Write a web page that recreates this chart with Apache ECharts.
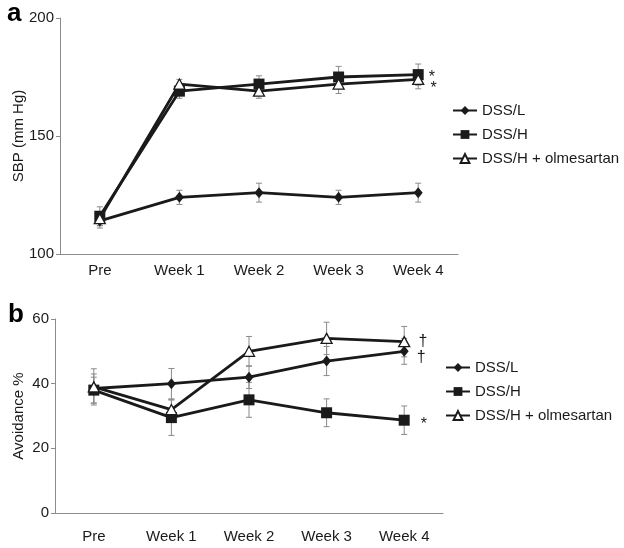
<!DOCTYPE html>
<html>
<head>
<meta charset="utf-8">
<script src="https://cdn.jsdelivr.net/npm/echarts@6/dist/echarts.min.js"></script>
<style>
  html, body { margin: 0; padding: 0; background: #fff; }
  #chart { width: 624px; height: 548px; }
</style>
</head>
<body>
<div id="chart"></div>
<script>
// Two stacked panels: (a) systolic BP, (b) avoidance %
const weeks = ['Pre', 'Week 1', 'Week 2', 'Week 3', 'Week 4'];
const names = ['DSS/L', 'DSS/H', 'DSS/H + olmesartan'];

// panel a — SBP (mm Hg)
const sbpL = [114, 124, 126, 124, 126];
const sbpH = [116, 169, 172, 175, 176];
const sbpO = [115, 172, 169, 172, 174];
const sbpLErr = [3, 3, 4, 3, 4];
const sbpHErr = [4, 3, 3.5, 4.5, 4.5];
const sbpOErr = [3, 2, 3, 4, 4];
const sbpMarks = ['', '*', '*']; // at Week 4

// panel b — Avoidance %
const avL = [38.5, 40, 42, 47, 50];
const avH = [38, 29.5, 35, 31, 28.7];
const avO = [39, 32, 50, 54, 53];
const avLErr = [4.5, 4.7, 3.5, 4.5, 4];
const avHErr = [4, 5.5, 5.4, 4.3, 4.4];
const avOErr = [5.6, 3, 4.6, 5, 4.7];
const avMarks = ['†', '*', '†'];

const FONT = '"Liberation Sans", Arial, sans-serif';
const INK = '#1a1a1a';
const AXIS = '#8c8c8c';
const ERR = '#8a8a8a';

const chart = echarts.init(document.getElementById('chart'), null, { renderer: 'canvas' });

const SYM = [
  { symbol: 'diamond', symbolSize: [9, 11], itemStyle: { color: INK, borderColor: INK, borderWidth: 0 } },
  { symbol: 'rect', symbolSize: 11, itemStyle: { color: INK, borderColor: INK, borderWidth: 0 } },
  { symbol: 'triangle', symbolSize: [11, 10], itemStyle: { color: '#fff', borderColor: INK, borderWidth: 1.3 } },
];

function lineSeries(i, vals, grid, mark, markOffset) {
  return Object.assign({
    name: names[i], type: 'line', xAxisIndex: grid, yAxisIndex: grid,
    data: vals.map((v, k) => k === vals.length - 1 && mark
      ? { value: v, label: { show: true, formatter: mark, position: 'right',
          offset: markOffset, color: INK, fontFamily: FONT, fontSize: 16 } }
      : v),
    lineStyle: { color: INK, width: 2.8 },
    showSymbol: true, z: 3, animation: false,
  }, SYM[i]);
}

function errSeries(vals, errs, grid) {
  return {
    type: 'custom', xAxisIndex: grid, yAxisIndex: grid, z: 2, silent: true, animation: false,
    data: vals.map((v, k) => [k, v - errs[k], v + errs[k]]),
    renderItem: (params, api) => {
      const lo = api.coord([api.value(0), api.value(1)]);
      const hi = api.coord([api.value(0), api.value(2)]);
      const st = { stroke: ERR, lineWidth: 1 };
      return { type: 'group', children: [
        { type: 'line', shape: { x1: lo[0], y1: lo[1], x2: hi[0], y2: hi[1] }, style: st },
        { type: 'line', shape: { x1: lo[0] - 3, y1: lo[1], x2: lo[0] + 3, y2: lo[1] }, style: st },
        { type: 'line', shape: { x1: hi[0] - 3, y1: hi[1], x2: hi[0] + 3, y2: hi[1] }, style: st },
      ] };
    },
  };
}

const xAxisBase = {
  type: 'category', data: weeks, boundaryGap: true,
  axisLine: { lineStyle: { color: AXIS, width: 1 } },
  axisTick: { alignWithLabel: true, length: 4, lineStyle: { color: AXIS } },
  axisLabel: { color: INK, fontFamily: FONT, fontSize: 15 },
};
const yAxisBase = {
  type: 'value',
  axisLine: { show: true, lineStyle: { color: AXIS, width: 1 } },
  axisTick: { show: true, length: 4, lineStyle: { color: AXIS } },
  axisLabel: { color: INK, fontFamily: FONT, fontSize: 15, margin: 6 },
  splitLine: { show: false },
  nameLocation: 'middle', nameMoveOverlap: false,
  nameTextStyle: { color: INK, fontFamily: FONT, fontSize: 15 },
};
const legendBase = {
  orient: 'vertical', itemWidth: 24, itemHeight: 11, itemGap: 9,
  textStyle: { color: INK, fontFamily: FONT, fontSize: 15 },
  data: names, selectedMode: false,
};

chart.setOption({
  backgroundColor: '#fff',
  grid: [
    { left: 60, top: 18, width: 398, height: 236, outerBoundsMode: 'none' },
    { left: 55, top: 319, width: 388, height: 194, outerBoundsMode: 'none' },
  ],
  xAxis: [
    Object.assign({}, xAxisBase, { gridIndex: 0, axisLabel: Object.assign({}, xAxisBase.axisLabel, { margin: 9 }) }),
    Object.assign({}, xAxisBase, { gridIndex: 1, axisLabel: Object.assign({}, xAxisBase.axisLabel, { margin: 16 }) }),
  ],
  yAxis: [
    Object.assign({}, yAxisBase, { gridIndex: 0, min: 100, max: 200, interval: 50,
      name: 'SBP (mm Hg)', nameGap: 34 }),
    Object.assign({}, yAxisBase, { gridIndex: 1, min: 0, max: 60, interval: 20,
      name: 'Avoidance %', nameGap: 29 }),
  ],
  legend: [
    Object.assign({}, legendBase, { left: 447, top: 98 }),
    Object.assign({}, legendBase, { left: 440, top: 355 }),
  ],
  graphic: [
    { type: 'text', left: 7, top: 1, style: { text: 'a', fill: '#000', font: 'bold 26px ' + FONT } },
    { type: 'text', left: 8, top: 302, style: { text: 'b', fill: '#000', font: 'bold 26px ' + FONT } },
  ],
  series: [
    errSeries(sbpL, sbpLErr, 0),
    errSeries(sbpH, sbpHErr, 0),
    errSeries(sbpO, sbpOErr, 0),
    lineSeries(0, sbpL, 0, sbpMarks[0], [0, 0]),
    lineSeries(1, sbpH, 0, sbpMarks[1], [0, 3]),
    lineSeries(2, sbpO, 0, sbpMarks[2], [1, 9]),
    errSeries(avL, avLErr, 1),
    errSeries(avH, avHErr, 1),
    errSeries(avO, avOErr, 1),
    lineSeries(0, avL, 1, avMarks[0], [3, 6]),
    lineSeries(1, avH, 1, avMarks[1], [6, 4]),
    lineSeries(2, avO, 1, avMarks[2], [3, 0]),
  ],
});
</script>
</body>
</html>
